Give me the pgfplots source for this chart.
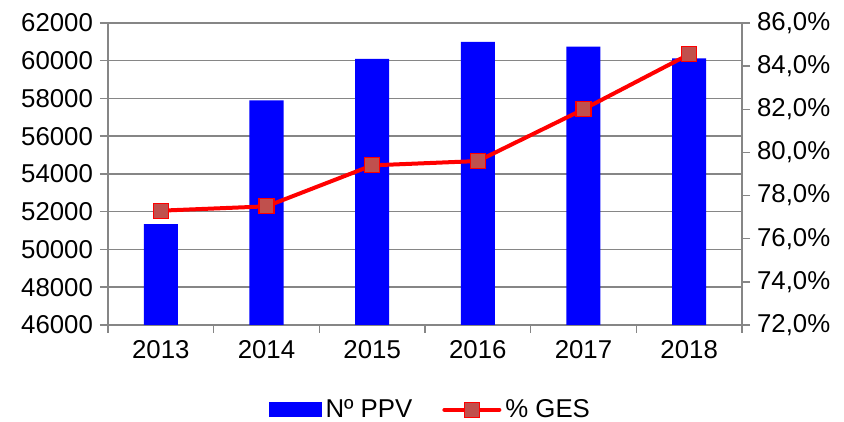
\documentclass[border=0pt]{standalone}
\usepackage{pgfplots}
\pgfplotsset{compat=1.18}
\usepackage{fontspec}
\setmainfont{Liberation Sans}
\definecolor{barblue}{RGB}{0,0,255}
\definecolor{mkfill}{RGB}{192,80,77}
\definecolor{gridgray}{RGB}{134,134,134}

\begin{document}
\begin{tikzpicture}
\useasboundingbox (-54pt,-48.5pt) rectangle (368pt,162.5pt);
\pgfplotsset{
  every axis/.append style={
    scale only axis, width=317pt, height=151pt,
    at={(0,0)}, anchor=south west,
    xmin=-0.5, xmax=5.5,
    font=\fontsize{12.9}{15}\selectfont,
    /pgf/number format/assume math mode=true,
    tick align=outside, major tick length=4pt, minor tick length=4pt,
    tick style={gridgray, line width=0.75pt},
    axis line style={gridgray, line width=0.75pt},
  }
}
\begin{axis}[
  axis y line*=left, axis x line*=bottom,
  ymin=46000, ymax=62000,
  ytick={46000,48000,...,62000},
  ymajorgrids, grid style={gridgray, line width=0.75pt},
  scaled y ticks=false,
  yticklabel style={/pgf/number format/1000 sep={}},
  xtick={0,...,5}, xticklabels={2013,2014,2015,2016,2017,2018},
  major x tick style={draw=none},
  minor xtick={-0.5,0.5,...,5.5},
]
\addplot[ybar, bar width=17pt, fill=barblue, draw=none] coordinates {
(0,51350) (1,57900) (2,60100) (3,61000) (4,60750) (5,60130)
};
\end{axis}
\begin{axis}[
  axis y line*=right, axis x line=none,
  ymin=72, ymax=86,
  ytick={72,74,...,86},
  yticklabels={{72,0\%},{74,0\%},{76,0\%},{78,0\%},{80,0\%},{82,0\%},{84,0\%},{86,0\%}},
  clip=false,
  legend style={at={(0.51,-0.281)}, anchor=center, draw=none, fill=none,
    legend columns=2, font=\fontsize{12.9}{15}\selectfont,
    /tikz/every even column/.append style={column sep=13pt}},
]
\addlegendimage{legend image code/.code={\fill[barblue] (0pt,-3.5pt) rectangle (26pt,3.5pt);}}
\addlegendentry{Nº PPV}
\addplot[red, line width=2pt, mark=square*, mark size=3.75pt,
  mark options={fill=mkfill, draw=red, line width=0.6pt},
  legend image code/.code={
    \draw[red, line width=2pt, line cap=round] (0pt,0pt) -- (27.5pt,0pt);
    \draw[fill=mkfill, draw=red, line width=0.6pt] (10pt,-3.75pt) rectangle (17.5pt,3.75pt);}]
coordinates {
(0,77.3) (1,77.5) (2,79.4) (3,79.6) (4,82.0) (5,84.55)
};
\addlegendentry{\% GES}
\end{axis}
\end{tikzpicture}
\end{document}
